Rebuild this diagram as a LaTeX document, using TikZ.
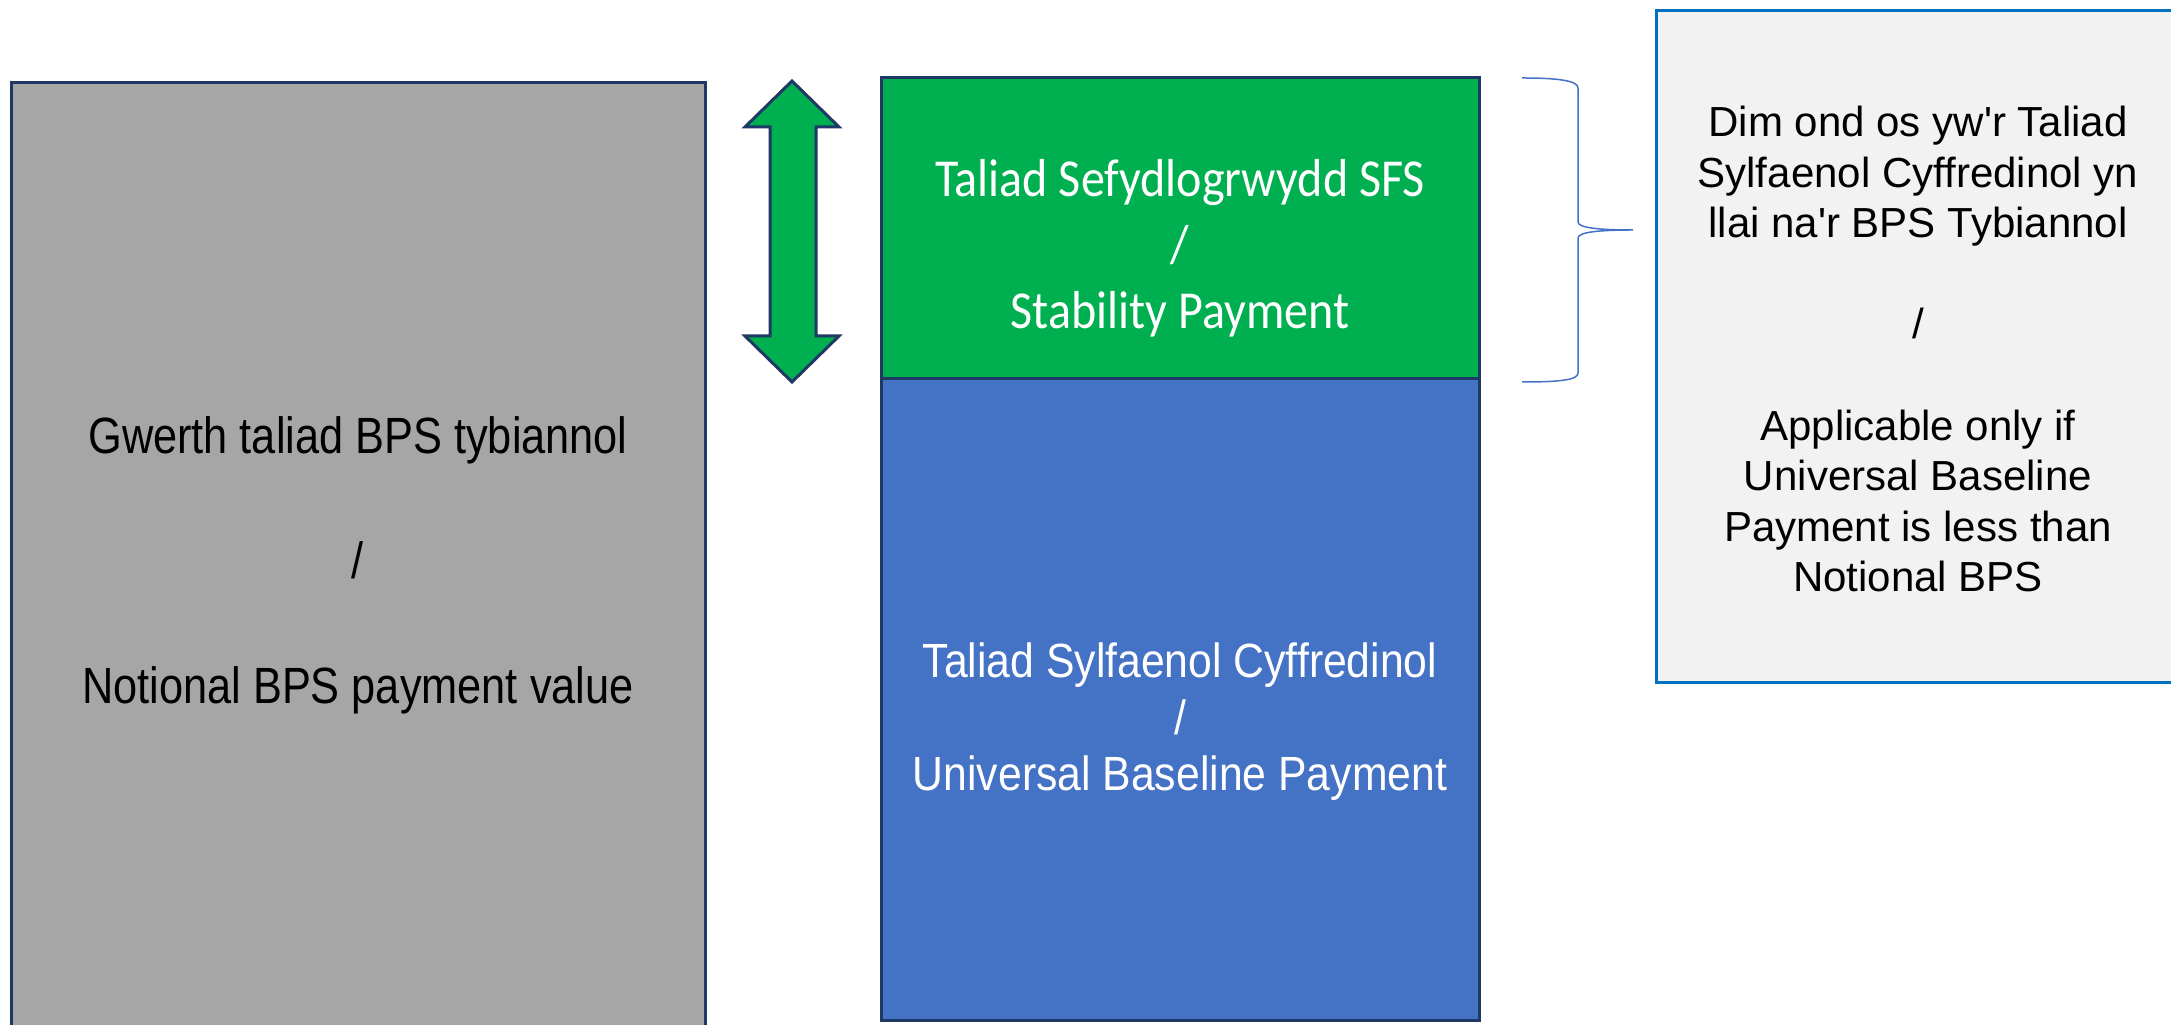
\documentclass[tikz,border=0pt]{standalone}
\usepackage{fontspec}
\setmainfont{Liberation Sans}
\newfontfamily\greyfont[FakeStretch=0.85]{Liberation Sans}
\newfontfamily\bluefont[FakeStretch=0.89]{Liberation Sans}
\newfontfamily\greenfont[FakeStretch=0.9]{Carlito}
\usetikzlibrary{positioning}
\definecolor{navy}{HTML}{1F3864}
\definecolor{bpsgrey}{HTML}{A6A6A6}
\definecolor{sfsgreen}{HTML}{00B050}
\definecolor{ubpblue}{HTML}{4472C4}
\definecolor{notefill}{HTML}{F2F2F2}
\definecolor{noteline}{HTML}{0070C0}
\tikzset{
    paybox/.style={draw=navy, line width=0.3mm, outer sep=0pt, inner sep=0pt},
    notebox/.style={draw=noteline, fill=notefill, line width=0.3mm, outer sep=0pt, inner sep=0pt},
    boxtext/.style={anchor=base, align=center, inner sep=0pt}
}
\begin{document}
\begin{tikzpicture}[x=0.1mm, y=-0.1mm]
                \clip (0,0) rectangle (2171,1025);
                \fill [white] (0,0) rectangle (2171,1025);
                \node [paybox, fill=bpsgrey, minimum width=69.4mm, minimum height=96.2mm] (bps) at (358,564) {};
                \node [paybox, fill=sfsgreen, minimum width=59.8mm, minimum height=30.1mm] (sfs) at (1180,228.5) {};
                \node [paybox, fill=ubpblue, minimum width=59.8mm, minimum height=64.2mm, below=0pt of sfs] (ubp) {};
                \node [notebox, minimum width=52.4mm, minimum height=67.2mm] (note) at (1918,347) {};
                % base anchor sits on the last line
                \node [boxtext, font=\greyfont\fontsize{14.5pt}{17.8pt}\selectfont] (bpstext) at (358,704) {Gwerth taliad BPS tybiannol\\\mbox{}\\/\\\mbox{}\\Notional BPS payment value};
                \node [boxtext, text=white, font=\greenfont\fontsize{15.2pt}{18.8pt}\selectfont] (sfstext) at (1180,329) {Taliad Sefydlogrwydd SFS\\/\\Stability Payment};
                \node [boxtext, text=white, font=\bluefont\fontsize{13.66pt}{16.2pt}\selectfont] (ubptext) at (1180,791) {Taliad Sylfaenol Cyffredinol\\/\\Universal Baseline Payment};
                \node [boxtext, font=\fontsize{11.96pt}{14.4pt}\selectfont] (notetext) at (1918,592) {Dim ond os yw\textquotesingle r Taliad\\Sylfaenol Cyffredinol yn\\llai na\textquotesingle r BPS Tybiannol\\\mbox{}\\/\\\mbox{}\\Applicable only if\\Universal Baseline\\Payment is less than\\Notional BPS};
                \draw [fill=sfsgreen, draw=navy, line width=0.3mm, line join=miter] (792,81) -- (839,127) -- (816,127) -- (816,336) -- (839,336) -- (792,382) -- (745,336) -- (770,336) -- (770,127) -- (745,127) -- cycle;
                \draw [ubpblue, line width=0.15mm] (1522,78) .. controls (1560,78) and (1578,81) .. (1578,88) -- (1578,222) .. controls (1578,228) and (1600,230) .. (1633,230) .. controls (1600,230) and (1578,232) .. (1578,238) -- (1578,373) .. controls (1578,380) and (1560,382) .. (1522,382);
            \end{tikzpicture}
\end{document}
